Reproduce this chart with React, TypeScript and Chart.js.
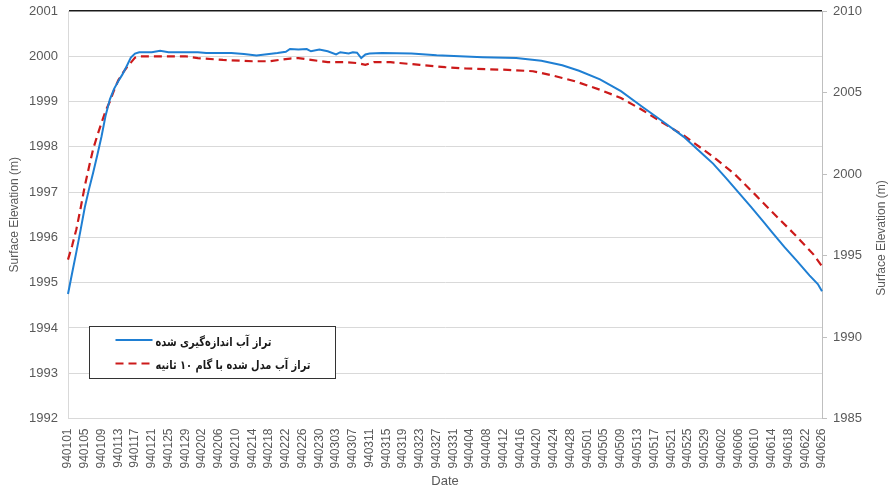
import React, { useEffect, useRef } from 'react';
import { Chart, registerables } from 'chart.js';

Chart.register(...registerables);

// Persian calendar dates 940101 .. 940626 (daily)
const monthLengths = [31, 31, 31, 31, 31, 26];
const dates: string[] = [];
monthLengths.forEach((n, m) => {
  for (let d = 1; d <= n; d++) {
    dates.push(`94${String(m + 1).padStart(2, '0')}${String(d).padStart(2, '0')}`);
  }
});

// measured water level (day index into dates, value in m)
const measuredDays = [0, 1, 2, 3, 4, 5, 6, 7, 8, 9, 10, 11, 12, 13, 14, 15, 16, 17, 20, 22, 24, 31, 33, 39, 42, 45, 47, 50, 52, 53, 55, 57, 58, 60, 62, 64, 65, 67, 68, 69, 70, 71, 72, 75, 82, 88, 99, 107, 113, 118, 122, 127, 132, 137, 142, 147, 149, 152, 154, 157, 160, 163, 166, 168, 171, 174, 177, 179, 180];
const measuredValues = [1994.75, 1995.22, 1995.68, 1996.16, 1996.66, 1997.06, 1997.43, 1997.82, 1998.23, 1998.7, 1999.05, 1999.28, 1999.45, 1999.6, 1999.78, 1999.97, 2000.06, 2000.09, 2000.09, 2000.12, 2000.09, 2000.09, 2000.07, 2000.07, 2000.05, 2000.02, 2000.04, 2000.07, 2000.1, 2000.16, 2000.15, 2000.16, 2000.11, 2000.15, 2000.11, 2000.04, 2000.09, 2000.06, 2000.09, 2000.08, 1999.96, 2000.04, 2000.06, 2000.07, 2000.06, 2000.02, 1999.98, 1999.96, 1999.9, 1999.8, 1999.68, 1999.49, 1999.23, 1998.89, 1998.56, 1998.22, 1998.05, 1997.8, 1997.63, 1997.32, 1997.0, 1996.68, 1996.35, 1996.12, 1995.79, 1995.48, 1995.16, 1994.97, 1994.81];

// modelled water level, 10 s time step
const modelDays = [0, 1, 2, 3, 4, 5, 6, 7, 8, 9, 10, 11, 12, 13, 14, 15, 16, 17, 28, 31, 37, 44, 48, 53, 55, 58, 62, 66, 69, 71, 73, 77, 84, 90, 95, 105, 111, 113, 116, 118, 121, 127, 132, 137, 142, 147, 150, 154, 159, 164, 168, 173, 178, 180];
const modelValues = [1995.51, 1995.82, 1996.18, 1996.64, 1997.13, 1997.55, 1997.95, 1998.25, 1998.53, 1998.8, 1999.0, 1999.25, 1999.47, 1999.62, 1999.75, 1999.86, 1999.97, 2000.0, 2000.0, 1999.96, 1999.92, 1999.89, 1999.89, 1999.95, 1999.96, 1999.92, 1999.87, 1999.87, 1999.85, 1999.81, 1999.87, 1999.87, 1999.81, 1999.76, 1999.73, 1999.7, 1999.67, 1999.63, 1999.57, 1999.52, 1999.45, 1999.26, 1999.08, 1998.82, 1998.53, 1998.25, 1998.05, 1997.78, 1997.41, 1996.95, 1996.57, 1996.11, 1995.62, 1995.36];

const seriesNames = ['تراز آب اندازه‌گیری شده', 'تراز آب مدل شده با گام ۱۰ ثانیه'];
const seriesColors = ['#1f7fd3', '#cc1a1a'];
const yTitle = 'Surface Elevation (m)';
const xTitle = 'Date';

const leftMin = 1992, leftMax = 2001, leftStep = 1;
const rightMin = 1985, rightMax = 2010, rightStep = 5;

const FONT = "'Liberation Sans', Arial, sans-serif";
const GREY = '#595959';

const overlayPlugin = {
  id: 'overlay',
  afterDraw(chart: any) {
    const { ctx, chartArea } = chart;
    ctx.save();
    // legend box
    const bx = Math.round(chartArea.left + 21) + 0.5;
    const by = Math.round(chartArea.top + 315) + 0.5;
    const bw = 246;
    const bh = 52;
    ctx.fillStyle = '#ffffff';
    ctx.fillRect(bx, by, bw, bh);
    ctx.strokeStyle = '#333333';
    ctx.lineWidth = 1;
    ctx.strokeRect(bx, by, bw, bh);

    const rows = [by + 13.5, by + 37];
    const widths = [116, 155];
    seriesNames.forEach((name, i) => {
      ctx.beginPath();
      ctx.strokeStyle = seriesColors[i];
      ctx.lineWidth = 2;
      ctx.setLineDash(i === 1 ? [8, 5] : []);
      ctx.moveTo(bx + 26, rows[i]);
      ctx.lineTo(bx + 63, rows[i]);
      ctx.stroke();
      ctx.setLineDash([]);
      ctx.fillStyle = '#1a1a1a';
      ctx.font = "bold 12px 'DejaVu Sans', sans-serif";
      (ctx as any).direction = 'rtl';
      ctx.textAlign = 'left';
      ctx.textBaseline = 'middle';
      ctx.fillText(name, bx + 66, rows[i] + 2.5, widths[i]);
    });

    // right axis title (reads bottom to top)
    (ctx as any).direction = 'ltr';
    ctx.translate(882, 238);
    ctx.rotate(-Math.PI / 2);
    ctx.fillStyle = GREY;
    ctx.font = `12px ${FONT}`;
    ctx.textAlign = 'center';
    ctx.textBaseline = 'middle';
    ctx.fillText(yTitle, 0, 0);
    ctx.restore();
  },
};

export default function App() {
  const ref = useRef<HTMLCanvasElement | null>(null);

  useEffect(() => {
    document.body.style.margin = '0';
    if (!ref.current) return;
    const chart = new Chart(ref.current, {
      type: 'line',
      data: {
        labels: dates,
        datasets: [
          {
            label: seriesNames[0],
            data: measuredDays.map((d, i) => ({ x: dates[d], y: measuredValues[i] })),
            borderColor: seriesColors[0],
            borderWidth: 2,
            pointRadius: 0,
            tension: 0,
            yAxisID: 'y',
          },
          {
            label: seriesNames[1],
            data: modelDays.map((d, i) => ({ x: dates[d], y: modelValues[i] })),
            borderColor: seriesColors[1],
            borderWidth: 2.2,
            borderDash: [8, 5],
            pointRadius: 0,
            tension: 0,
            yAxisID: 'y',
          },
        ],
      } as any,
      options: {
        animation: false,
        responsive: false,
        layout: { padding: { top: 11, left: 0, right: 0, bottom: 0 } },
        plugins: {
          legend: { display: false },
          tooltip: { enabled: false },
        },
        scales: {
          x: {
            type: 'category',
            offset: false,
            grid: { display: false },
            border: { display: true, color: '#d9d9d9', width: 1 },
            ticks: {
              autoSkip: false,
              maxRotation: 90,
              minRotation: 90,
              padding: 2,
              color: GREY,
              font: { family: FONT, size: 12 },
              callback: (_v: any, i: number) => (i % 4 === 0 ? dates[i] : ''),
            },
            title: {
              display: true,
              text: xTitle,
              color: GREY,
              font: { family: FONT, size: 13 },
              padding: { top: 0, bottom: 2 },
            },
            afterFit: (s: any) => {
              s.height = 72.5;
              s.paddingLeft = 0;
              s.paddingRight = 0;
            },
          },
          y: {
            position: 'left',
            min: leftMin,
            max: leftMax,
            ticks: {
              stepSize: leftStep,
              padding: 10,
              color: GREY,
              font: { family: FONT, size: 13 },
              callback: (v: any) => String(v),
            },
            grid: {
              drawTicks: false,
              color: (c: any) => (c.tick && c.tick.value === leftMax ? '#1a1a1a' : '#d9d9d9'),
              lineWidth: (c: any) => (c.tick && c.tick.value === leftMax ? 1.5 : 1),
            },
            border: { color: '#d9d9d9', width: 1 },
            title: {
              display: true,
              text: yTitle,
              color: GREY,
              font: { family: FONT, size: 12 },
              padding: { top: 7, bottom: 0 },
            },
            afterFit: (s: any) => {
              s.width = 68;
              s.paddingTop = 0;
              s.paddingBottom = 0;
            },
          },
          y2: {
            position: 'right',
            min: rightMin,
            max: rightMax,
            ticks: {
              stepSize: rightStep,
              padding: 6,
              color: GREY,
              font: { family: FONT, size: 13 },
              callback: (v: any) => String(v),
            },
            grid: { drawOnChartArea: false, drawTicks: true, tickLength: 5, color: '#bfbfbf' },
            border: { color: '#bfbfbf', width: 1 },
            afterFit: (s: any) => {
              s.width = 70;
              s.paddingTop = 0;
              s.paddingBottom = 0;
            },
          },
        },
      } as any,
      plugins: [overlayPlugin],
    });
    return () => chart.destroy();
  }, []);

  return (
    <div style={{ width: 892, height: 491 }}>
      <canvas ref={ref} width={892} height={491} />
    </div>
  );
}
